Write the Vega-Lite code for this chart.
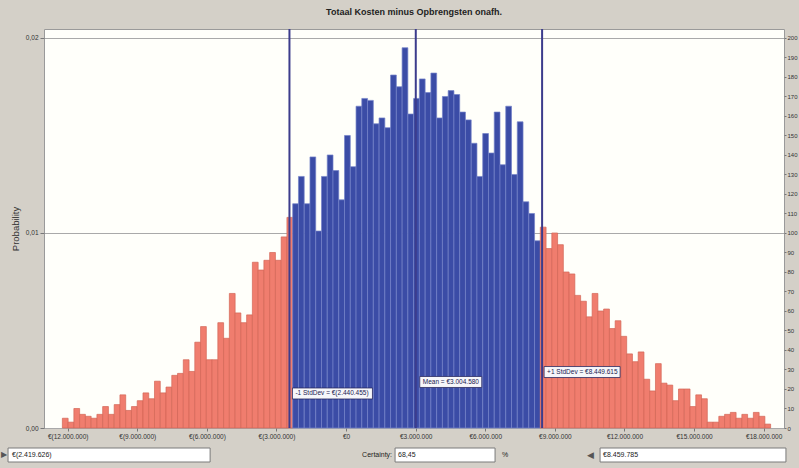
{
  "$schema": "https://vega.github.io/schema/vega-lite/v6.json",
  "width": 740,
  "height": 399,
  "autosize": {"type": "none"},
  "padding": {"left": 44, "top": 29, "right": 15, "bottom": 40},
  "background": "#d4d0c8",
  "config": {
    "locale": {"number": {"decimal": ",", "thousands": ".", "grouping": [3], "currency": ["€", ""]}},
    "font": "Liberation Sans",
    "view": {"fill": "#fffffa", "stroke": "#9a9a9a"},
    "axis": {"labelFont": "Liberation Sans", "titleFont": "Liberation Sans", "labelColor": "#333333", "tickColor": "#777777", "domainColor": "#999999"}
  },
  "title": {"text": "Totaal Kosten minus Opbrengsten onafh.", "fontSize": 9, "fontWeight": "bold", "color": "#222222", "offset": 11, "anchor": "middle", "font": "Liberation Sans"},
  "datasets": {
    "bins": [
      {"start": -12250000, "probability": 0.0005, "range": "outside"},
      {"start": -12001800, "probability": 0.0003, "range": "outside"},
      {"start": -11753600, "probability": 0.0010, "range": "outside"},
      {"start": -11505400, "probability": 0.0007, "range": "outside"},
      {"start": -11257200, "probability": 0.0006, "range": "outside"},
      {"start": -11009000, "probability": 0.0005, "range": "outside"},
      {"start": -10760800, "probability": 0.0007, "range": "outside"},
      {"start": -10512600, "probability": 0.0011, "range": "outside"},
      {"start": -10264400, "probability": 0.0007, "range": "outside"},
      {"start": -10016200, "probability": 0.0012, "range": "outside"},
      {"start": -9768000, "probability": 0.0017, "range": "outside"},
      {"start": -9519800, "probability": 0.0009, "range": "outside"},
      {"start": -9271600, "probability": 0.0011, "range": "outside"},
      {"start": -9023400, "probability": 0.0014, "range": "outside"},
      {"start": -8775200, "probability": 0.0018, "range": "outside"},
      {"start": -8527000, "probability": 0.0015, "range": "outside"},
      {"start": -8278800, "probability": 0.0024, "range": "outside"},
      {"start": -8030600, "probability": 0.0018, "range": "outside"},
      {"start": -7782400, "probability": 0.0021, "range": "outside"},
      {"start": -7534200, "probability": 0.0027, "range": "outside"},
      {"start": -7286000, "probability": 0.0028, "range": "outside"},
      {"start": -7037800, "probability": 0.0035, "range": "outside"},
      {"start": -6789600, "probability": 0.0029, "range": "outside"},
      {"start": -6541400, "probability": 0.0044, "range": "outside"},
      {"start": -6293200, "probability": 0.0052, "range": "outside"},
      {"start": -6045000, "probability": 0.0035, "range": "outside"},
      {"start": -5796800, "probability": 0.0035, "range": "outside"},
      {"start": -5548600, "probability": 0.0054, "range": "outside"},
      {"start": -5300400, "probability": 0.0046, "range": "outside"},
      {"start": -5052200, "probability": 0.0069, "range": "outside"},
      {"start": -4804000, "probability": 0.0059, "range": "outside"},
      {"start": -4555800, "probability": 0.0054, "range": "outside"},
      {"start": -4307600, "probability": 0.0058, "range": "outside"},
      {"start": -4059400, "probability": 0.0085, "range": "outside"},
      {"start": -3811200, "probability": 0.0081, "range": "outside"},
      {"start": -3563000, "probability": 0.0086, "range": "outside"},
      {"start": -3314800, "probability": 0.0090, "range": "outside"},
      {"start": -3066600, "probability": 0.0086, "range": "outside"},
      {"start": -2818400, "probability": 0.0098, "range": "outside"},
      {"start": -2570200, "probability": 0.0108, "range": "outside"},
      {"start": -2322000, "probability": 0.0115, "range": "inside"},
      {"start": -2073800, "probability": 0.0129, "range": "inside"},
      {"start": -1825600, "probability": 0.0115, "range": "inside"},
      {"start": -1577400, "probability": 0.0139, "range": "inside"},
      {"start": -1329200, "probability": 0.0101, "range": "inside"},
      {"start": -1081000, "probability": 0.0129, "range": "inside"},
      {"start": -832800, "probability": 0.0140, "range": "inside"},
      {"start": -584600, "probability": 0.0132, "range": "inside"},
      {"start": -336400, "probability": 0.0117, "range": "inside"},
      {"start": -88200, "probability": 0.0150, "range": "inside"},
      {"start": 160000, "probability": 0.0134, "range": "inside"},
      {"start": 408200, "probability": 0.0165, "range": "inside"},
      {"start": 656400, "probability": 0.0169, "range": "inside"},
      {"start": 904600, "probability": 0.0168, "range": "inside"},
      {"start": 1152800, "probability": 0.0156, "range": "inside"},
      {"start": 1401000, "probability": 0.0159, "range": "inside"},
      {"start": 1649200, "probability": 0.0154, "range": "inside"},
      {"start": 1897400, "probability": 0.0181, "range": "inside"},
      {"start": 2145600, "probability": 0.0175, "range": "inside"},
      {"start": 2393800, "probability": 0.0195, "range": "inside"},
      {"start": 2642000, "probability": 0.0161, "range": "inside"},
      {"start": 2890200, "probability": 0.0169, "range": "inside"},
      {"start": 3138400, "probability": 0.0179, "range": "inside"},
      {"start": 3386600, "probability": 0.0172, "range": "inside"},
      {"start": 3634800, "probability": 0.0182, "range": "inside"},
      {"start": 3883000, "probability": 0.0159, "range": "inside"},
      {"start": 4131200, "probability": 0.0170, "range": "inside"},
      {"start": 4379400, "probability": 0.0173, "range": "inside"},
      {"start": 4627600, "probability": 0.0171, "range": "inside"},
      {"start": 4875800, "probability": 0.0162, "range": "inside"},
      {"start": 5124000, "probability": 0.0158, "range": "inside"},
      {"start": 5372200, "probability": 0.0146, "range": "inside"},
      {"start": 5620400, "probability": 0.0129, "range": "inside"},
      {"start": 5868600, "probability": 0.0151, "range": "inside"},
      {"start": 6116800, "probability": 0.0141, "range": "inside"},
      {"start": 6365000, "probability": 0.0162, "range": "inside"},
      {"start": 6613200, "probability": 0.0135, "range": "inside"},
      {"start": 6861400, "probability": 0.0165, "range": "inside"},
      {"start": 7109600, "probability": 0.0130, "range": "inside"},
      {"start": 7357800, "probability": 0.0157, "range": "inside"},
      {"start": 7606000, "probability": 0.0116, "range": "inside"},
      {"start": 7854200, "probability": 0.0110, "range": "inside"},
      {"start": 8102400, "probability": 0.0096, "range": "inside"},
      {"start": 8350600, "probability": 0.0103, "range": "outside"},
      {"start": 8598800, "probability": 0.0092, "range": "outside"},
      {"start": 8847000, "probability": 0.0100, "range": "outside"},
      {"start": 9095200, "probability": 0.0094, "range": "outside"},
      {"start": 9343400, "probability": 0.0080, "range": "outside"},
      {"start": 9591600, "probability": 0.0079, "range": "outside"},
      {"start": 9839800, "probability": 0.0068, "range": "outside"},
      {"start": 10088000, "probability": 0.0065, "range": "outside"},
      {"start": 10336200, "probability": 0.0057, "range": "outside"},
      {"start": 10584400, "probability": 0.0069, "range": "outside"},
      {"start": 10832600, "probability": 0.0060, "range": "outside"},
      {"start": 11080800, "probability": 0.0061, "range": "outside"},
      {"start": 11329000, "probability": 0.0051, "range": "outside"},
      {"start": 11577200, "probability": 0.0055, "range": "outside"},
      {"start": 11825400, "probability": 0.0047, "range": "outside"},
      {"start": 12073600, "probability": 0.0038, "range": "outside"},
      {"start": 12321800, "probability": 0.0034, "range": "outside"},
      {"start": 12570000, "probability": 0.0039, "range": "outside"},
      {"start": 12818200, "probability": 0.0025, "range": "outside"},
      {"start": 13066400, "probability": 0.0019, "range": "outside"},
      {"start": 13314600, "probability": 0.0033, "range": "outside"},
      {"start": 13562800, "probability": 0.0023, "range": "outside"},
      {"start": 13811000, "probability": 0.0022, "range": "outside"},
      {"start": 14059200, "probability": 0.0014, "range": "outside"},
      {"start": 14307400, "probability": 0.0020, "range": "outside"},
      {"start": 14555600, "probability": 0.0020, "range": "outside"},
      {"start": 14803800, "probability": 0.0011, "range": "outside"},
      {"start": 15052000, "probability": 0.0017, "range": "outside"},
      {"start": 15300200, "probability": 0.0015, "range": "outside"},
      {"start": 15548400, "probability": 0.0003, "range": "outside"},
      {"start": 15796600, "probability": 0.0003, "range": "outside"},
      {"start": 16044800, "probability": 0.0006, "range": "outside"},
      {"start": 16293000, "probability": 0.0007, "range": "outside"},
      {"start": 16541200, "probability": 0.0008, "range": "outside"},
      {"start": 16789400, "probability": 0.0005, "range": "outside"},
      {"start": 17037600, "probability": 0.0007, "range": "outside"},
      {"start": 17285800, "probability": 0.0005, "range": "outside"},
      {"start": 17534000, "probability": 0.0008, "range": "outside"},
      {"start": 17782200, "probability": 0.0006, "range": "outside"},
      {"start": 18030400, "probability": 0.0002, "range": "outside"}
    ],
    "stats": [
      {"stat": "lo", "value": -2440455, "label": "-1 StdDev = €(2.440.455)"},
      {"stat": "mean", "value": 3004580, "label": "Mean = €3.004.580"},
      {"stat": "hi", "value": 8449615, "label": "+1 StdDev = €8.449.615"}
    ]
  },
  "layer": [
    {
      "data": {"name": "bins"},
      "mark": {"type": "bar", "binSpacing": 0, "strokeWidth": 0.7},
      "encoding": {
        "x": {
          "field": "start", "type": "quantitative",
          "bin": {"binned": true, "step": 248200},
          "scale": {"domain": [-13020000, 18876000], "nice": false, "zero": false},
          "axis": {
            "title": null,
            "values": [-12000000, -9000000, -6000000, -3000000, 0, 3000000, 6000000, 9000000, 12000000, 15000000, 18000000],
            "labelExpr": "datum.value < 0 ? '€(' + format(-datum.value, ',d') + ')' : '€' + format(datum.value, ',d')",
            "labelFontSize": 6.5, "tickSize": 3, "labelPadding": 2, "grid": false, "domain": false
          }
        },
        "y": {
          "field": "probability", "type": "quantitative",
          "scale": {"domain": [0, 0.02046], "nice": false},
          "axis": {
            "orient": "left", "values": [0, 0.01, 0.02], "format": ".2f",
            "grid": true, "gridColor": "#a9a9a9", "title": "Probability",
            "titleFontSize": 9.5, "titleFontWeight": "normal", "titleColor": "#333333",
            "labelFontSize": 6.5, "tickSize": 4, "domain": false, "titlePadding": 5
          }
        },
        "fill": {"field": "range", "type": "nominal", "scale": {"domain": ["outside", "inside"], "range": ["#f07d6e", "#3b4ca6"]}, "legend": null},
        "stroke": {"field": "range", "type": "nominal", "scale": {"domain": ["outside", "inside"], "range": ["#d26656", "#7483c8"]}, "legend": null}
      }
    },
    {
      "data": {"name": "stats"},
      "mark": {"type": "rule", "color": "#3c3c8c", "strokeWidth": 2},
      "encoding": {
        "x": {"field": "value", "type": "quantitative", "axis": {"title": null}},
        "y": {
          "datum": 0, "type": "quantitative",
          "axis": {
            "orient": "right", "title": null,
            "values": [0, 0.001, 0.002, 0.003, 0.004, 0.005, 0.006, 0.007, 0.008, 0.009, 0.01, 0.011, 0.012, 0.013, 0.014, 0.015, 0.016, 0.017, 0.018, 0.019, 0.02],
            "labelExpr": "format(datum.value * 10000, 'd')",
            "labelFontSize": 6, "tickSize": 2, "labelPadding": 1, "domain": false, "grid": false
          }
        },
        "y2": {"datum": 0.02046}
      }
    },
    {
      "data": {"name": "stats"},
      "transform": [{"filter": "datum.stat == 'lo'"}],
      "mark": {"type": "point", "shape": "M0.3,-0.55 L8.3,-0.55 L8.3,0.55 L0.3,0.55 Z", "size": 400, "filled": true, "fill": "#f6f6fa", "stroke": "#2a2a60", "strokeWidth": 0.8, "opacity": 1},
      "encoding": {
        "x": {"field": "value", "type": "quantitative", "axis": {"title": null}},
        "y": {"datum": 0.00177, "type": "quantitative", "axis": null}
      }
    },
    {
      "data": {"name": "stats"},
      "transform": [{"filter": "datum.stat == 'mean'"}],
      "mark": {"type": "point", "shape": "M0.4,-0.55 L6.6,-0.55 L6.6,0.55 L0.4,0.55 Z", "size": 400, "filled": true, "fill": "#f6f6fa", "stroke": "#2a2a60", "strokeWidth": 0.8, "opacity": 1},
      "encoding": {
        "x": {"field": "value", "type": "quantitative", "axis": {"title": null}},
        "y": {"datum": 0.00236, "type": "quantitative", "axis": null}
      }
    },
    {
      "data": {"name": "stats"},
      "transform": [{"filter": "datum.stat == 'hi'"}],
      "mark": {"type": "point", "shape": "M0.2,-0.55 L7.8,-0.55 L7.8,0.55 L0.2,0.55 Z", "size": 400, "filled": true, "fill": "#f6f6fa", "stroke": "#2a2a60", "strokeWidth": 0.8, "opacity": 1},
      "encoding": {
        "x": {"field": "value", "type": "quantitative", "axis": {"title": null}},
        "y": {"datum": 0.00287, "type": "quantitative", "axis": null}
      }
    },
    {
      "data": {"name": "stats"},
      "transform": [{"filter": "datum.stat == 'lo'"}],
      "mark": {"type": "text", "align": "left", "baseline": "middle", "dx": 6, "fontSize": 6.5, "color": "#1a1a50"},
      "encoding": {
        "x": {"field": "value", "type": "quantitative", "axis": {"title": null}},
        "y": {"datum": 0.00177, "type": "quantitative", "axis": null},
        "text": {"field": "label"}
      }
    },
    {
      "data": {"name": "stats"},
      "transform": [{"filter": "datum.stat == 'mean'"}],
      "mark": {"type": "text", "align": "left", "baseline": "middle", "dx": 7, "fontSize": 6.5, "color": "#1a1a50"},
      "encoding": {
        "x": {"field": "value", "type": "quantitative", "axis": {"title": null}},
        "y": {"datum": 0.00236, "type": "quantitative", "axis": null},
        "text": {"field": "label"}
      }
    },
    {
      "data": {"name": "stats"},
      "transform": [{"filter": "datum.stat == 'hi'"}],
      "mark": {"type": "text", "align": "left", "baseline": "middle", "dx": 5, "fontSize": 6.5, "color": "#1a1a50"},
      "encoding": {
        "x": {"field": "value", "type": "quantitative", "axis": {"title": null}},
        "y": {"datum": 0.00287, "type": "quantitative", "axis": null},
        "text": {"field": "label"}
      }
    },
    {
      "data": {"values": [{}]},
      "mark": {"type": "rect", "fill": "#ffffff", "stroke": "#7a7a7a", "strokeWidth": 1},
      "encoding": {
        "x": {"datum": -14570000, "type": "quantitative", "axis": {"title": null}},
        "x2": {"datum": -5860000},
        "y": {"datum": -0.001026, "type": "quantitative", "axis": null},
        "y2": {"datum": -0.001744}
      }
    },
    {
      "data": {"values": [{}]},
      "mark": {"type": "rect", "fill": "#ffffff", "stroke": "#7a7a7a", "strokeWidth": 1},
      "encoding": {
        "x": {"datum": 2112000, "type": "quantitative", "axis": {"title": null}},
        "x2": {"datum": 6422000},
        "y": {"datum": -0.001026, "type": "quantitative", "axis": null},
        "y2": {"datum": -0.001744}
      }
    },
    {
      "data": {"values": [{}]},
      "mark": {"type": "rect", "fill": "#ffffff", "stroke": "#7a7a7a", "strokeWidth": 1},
      "encoding": {
        "x": {"datum": 10948000, "type": "quantitative", "axis": {"title": null}},
        "x2": {"datum": 18960000},
        "y": {"datum": -0.001026, "type": "quantitative", "axis": null},
        "y2": {"datum": -0.001744}
      }
    },
    {
      "data": {"values": [{}]},
      "mark": {"type": "text", "text": "€(2.419.626)", "align": "left", "baseline": "middle", "fontSize": 7, "color": "#222222"},
      "encoding": {
        "x": {"datum": -14400000, "type": "quantitative", "axis": {"title": null}},
        "y": {"datum": -0.001385, "type": "quantitative", "axis": null}
      }
    },
    {
      "data": {"values": [{}]},
      "mark": {"type": "text", "text": "▶", "align": "center", "baseline": "middle", "fontSize": 8, "color": "#555555"},
      "encoding": {
        "x": {"datum": -14740000, "type": "quantitative", "axis": {"title": null}},
        "y": {"datum": -0.001385, "type": "quantitative", "axis": null}
      }
    },
    {
      "data": {"values": [{}]},
      "mark": {"type": "text", "text": "Certainty:", "align": "right", "baseline": "middle", "fontSize": 7, "color": "#222222"},
      "encoding": {
        "x": {"datum": 1983000, "type": "quantitative", "axis": {"title": null}},
        "y": {"datum": -0.001385, "type": "quantitative", "axis": null}
      }
    },
    {
      "data": {"values": [{}]},
      "mark": {"type": "text", "text": "68,45", "align": "left", "baseline": "middle", "fontSize": 7, "color": "#222222"},
      "encoding": {
        "x": {"datum": 2241000, "type": "quantitative", "axis": {"title": null}},
        "y": {"datum": -0.001385, "type": "quantitative", "axis": null}
      }
    },
    {
      "data": {"values": [{}]},
      "mark": {"type": "text", "text": "%", "align": "left", "baseline": "middle", "fontSize": 7, "color": "#222222"},
      "encoding": {
        "x": {"datum": 6724000, "type": "quantitative", "axis": {"title": null}},
        "y": {"datum": -0.001385, "type": "quantitative", "axis": null}
      }
    },
    {
      "data": {"values": [{}]},
      "mark": {"type": "text", "text": "◀", "align": "center", "baseline": "middle", "fontSize": 9, "color": "#555555"},
      "encoding": {
        "x": {"datum": 10517000, "type": "quantitative", "axis": {"title": null}},
        "y": {"datum": -0.001385, "type": "quantitative", "axis": null}
      }
    },
    {
      "data": {"values": [{}]},
      "mark": {"type": "text", "text": "€8.459.785", "align": "left", "baseline": "middle", "fontSize": 7, "color": "#222222"},
      "encoding": {
        "x": {"datum": 11078000, "type": "quantitative", "axis": {"title": null}},
        "y": {"datum": -0.001385, "type": "quantitative", "axis": null}
      }
    }
  ],
  "resolve": {"axis": {"y": "independent"}}
}
